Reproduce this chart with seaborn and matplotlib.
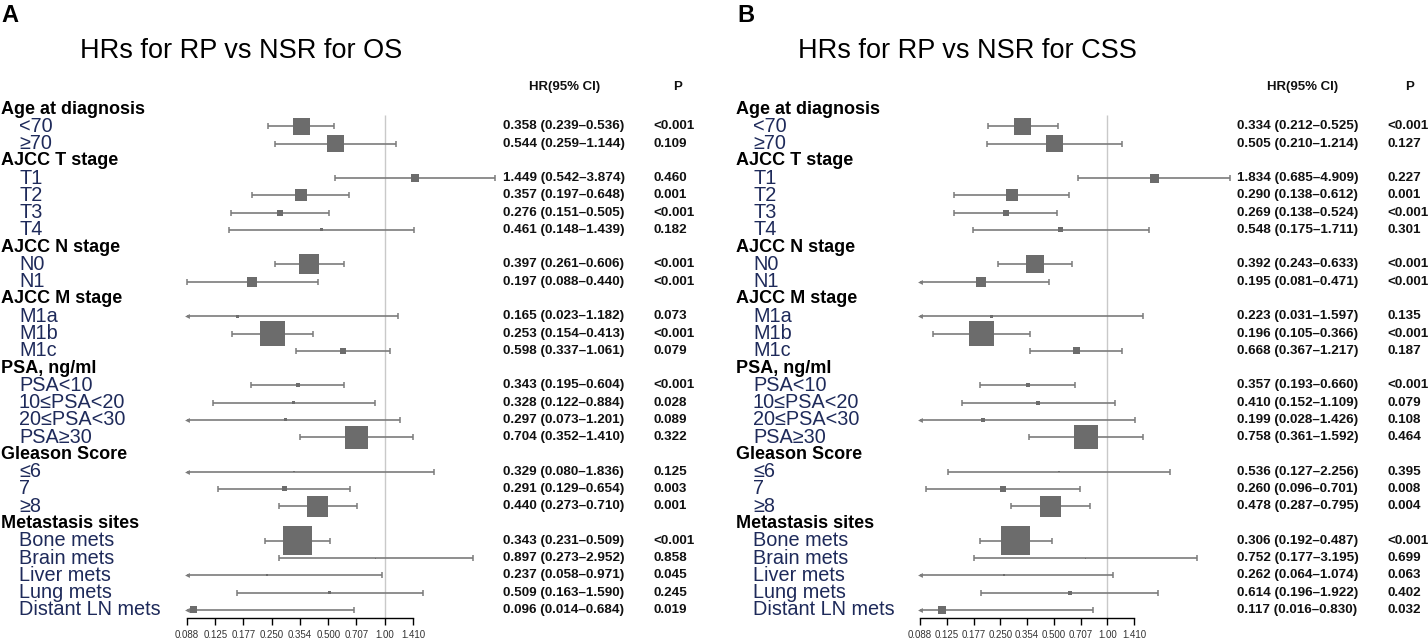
import numpy as np
import pandas as pd
import matplotlib
matplotlib.use("Agg")
import matplotlib.pyplot as plt
import matplotlib.transforms as mtransforms
import seaborn as sns

# ---------------- data ----------------
groups = ["Age at diagnosis", "AJCC T stage", "AJCC N stage", "AJCC M stage",
          "PSA, ng/ml", "Gleason Score", "Metastasis sites"]
subgroups = [["<70", "≥70"],
             ["T1", "T2", "T3", "T4"],
             ["N0", "N1"],
             ["M1a", "M1b", "M1c"],
             ["PSA<10", "10≤PSA<20", "20≤PSA<30", "PSA≥30"],
             ["≤6", "7", "≥8"],
             ["Bone mets", "Brain mets", "Liver mets", "Lung mets", "Distant LN mets"]]

# Panel A: OS
hr_a = [0.358, 0.544, 1.449, 0.357, 0.276, 0.461, 0.397, 0.197, 0.165, 0.253, 0.598,
        0.343, 0.328, 0.297, 0.704, 0.329, 0.291, 0.440, 0.343, 0.897, 0.237, 0.509, 0.096]
lo_a = [0.239, 0.259, 0.542, 0.197, 0.151, 0.148, 0.261, 0.088, 0.023, 0.154, 0.337,
        0.195, 0.122, 0.073, 0.352, 0.080, 0.129, 0.273, 0.231, 0.273, 0.058, 0.163, 0.014]
hi_a = [0.536, 1.144, 3.874, 0.648, 0.505, 1.439, 0.606, 0.440, 1.182, 0.413, 1.061,
        0.604, 0.884, 1.201, 1.410, 1.836, 0.654, 0.710, 0.509, 2.952, 0.971, 1.590, 0.684]
p_a = ["<0.001", "0.109", "0.460", "0.001", "<0.001", "0.182", "<0.001", "<0.001",
       "0.073", "<0.001", "0.079", "<0.001", "0.028", "0.089", "0.322", "0.125",
       "0.003", "0.001", "<0.001", "0.858", "0.045", "0.245", "0.019"]
box_weight_a = [17, 17, 8, 12, 6, 3, 20, 10, 3, 25, 6, 4, 3, 3, 23, 1.5, 5, 21, 29, 1, 2, 3, 7]

# Panel B: CSS
hr_b = [0.334, 0.505, 1.834, 0.290, 0.269, 0.548, 0.392, 0.195, 0.223, 0.196, 0.668,
        0.357, 0.410, 0.199, 0.758, 0.536, 0.260, 0.478, 0.306, 0.752, 0.262, 0.614, 0.117]
lo_b = [0.212, 0.210, 0.685, 0.138, 0.138, 0.175, 0.243, 0.081, 0.031, 0.105, 0.367,
        0.193, 0.152, 0.028, 0.361, 0.127, 0.096, 0.287, 0.192, 0.177, 0.064, 0.196, 0.016]
hi_b = [0.525, 1.214, 4.909, 0.612, 0.524, 1.711, 0.633, 0.471, 1.597, 0.366, 1.217,
        0.660, 1.109, 1.426, 1.592, 2.256, 0.701, 0.795, 0.487, 3.195, 1.074, 1.922, 0.830]
p_b = ["<0.001", "0.127", "0.227", "0.001", "<0.001", "0.301", "<0.001", "<0.001",
       "0.135", "<0.001", "0.187", "<0.001", "0.079", "0.108", "0.464", "0.395",
       "0.008", "0.004", "<0.001", "0.699", "0.063", "0.402", "0.032"]
box_weight_b = [17, 17, 9, 12, 6, 5, 18, 10, 3, 25, 7, 4, 4, 4, 24, 1.5, 6, 21, 29, 1, 2, 4, 8]

tick_vals = [2 ** -3.5, 2 ** -3, 2 ** -2.5, 2 ** -2, 2 ** -1.5, 2 ** -1, 2 ** -0.5, 1.0, 2 ** 0.5]
tick_labels = ["0.088", "0.125", "0.177", "0.250", "0.354", "0.500", "0.707", "1.00", "1.410"]

titles = ["HRs for RP vs NSR for OS", "HRs for RP vs NSR for CSS"]
letters = ["A", "B"]

# ---------------- style ----------------
sns.set_theme(style="white")
plt.rcParams["font.family"] = ["Liberation Sans", "DejaVu Sans"]

W, H = 1428, 642
fig = plt.figure(figsize=(W / 100, H / 100), dpi=100)

ROW0, ROWSTEP = 109, 17.27
AX_TOP, AX_BOT = 100, 618
LABEL_COL = "#1e2a5a"
LINE_COL = "#7c7c7c"
BOX_COL = "#6c6c6c"


def build_rows():
    rows = []
    r = 0
    for g, subs in zip(groups, subgroups):
        rows.append(("h", g, r))
        r += 1
        for s in subs:
            rows.append(("s", s, r))
            r += 1
    return rows, r


rows, nrows = build_rows()
sub_rows = [r for kind, _, r in rows if kind == "s"]

panels = [
    dict(hr=hr_a, lo=lo_a, hi=hi_a, p=p_a, w=box_weight_a, ax_l=187, ax_r=413,
         head_x=1, sub_x=19, hr_x=503, p_x=653, hrhead_x=565, phead_x=678,
         title_x=241, letter_x=1),
    dict(hr=hr_b, lo=lo_b, hi=hi_b, p=p_b, w=box_weight_b, ax_l=920, ax_r=1134,
         head_x=736, sub_x=753, hr_x=1237, p_x=1387, hrhead_x=1303, phead_x=1410,
         title_x=967, letter_x=737),
]

xmin, xmax = 2 ** -3.5, 2 ** 0.5

for i, pnl in enumerate(panels):
    ax = fig.add_axes([pnl["ax_l"] / W, (H - AX_BOT) / H,
                       (pnl["ax_r"] - pnl["ax_l"]) / W, (AX_BOT - AX_TOP) / H])
    ax.set_xscale("log", base=2)
    ax.set_xlim(xmin, xmax)
    ylo = (AX_BOT - ROW0) / ROWSTEP
    yhi = (AX_TOP - ROW0) / ROWSTEP
    ax.set_ylim(ylo, yhi)
    ax.patch.set_alpha(0)

    df = pd.DataFrame({"row": sub_rows, "hr": pnl["hr"], "lo": pnl["lo"],
                       "hi": pnl["hi"], "w": pnl["w"], "p": pnl["p"]})

    # reference line at HR = 1
    ax.vlines(1.0, 0.35, ylo, color="#c9c9c9", lw=1.0, zorder=1)

    # confidence intervals
    for _, d in df.iterrows():
        clipped = d["lo"] < 0.088
        x0 = xmin if clipped else d["lo"]
        ax.plot([x0, d["hi"]], [d["row"], d["row"]], color=LINE_COL, lw=1.2,
                clip_on=False, zorder=2, solid_capstyle="butt")
        if clipped:
            ax.plot([x0], [d["row"]], marker="<", ms=3.5, color=LINE_COL,
                    clip_on=False, zorder=2, markeredgewidth=0)
        else:
            ax.plot([x0], [d["row"]], marker="|", ms=5, mew=1.1, color=LINE_COL,
                    clip_on=False, zorder=2)
        ax.plot([d["hi"]], [d["row"]], marker="|", ms=5, mew=1.1, color=LINE_COL,
                clip_on=False, zorder=2)

    # boxes (side in px -> area in pt^2)
    areas = (np.array(df["w"], dtype=float) * 0.72) ** 2
    sns.scatterplot(data=df, x="hr", y="row", marker="s", s=areas, color=BOX_COL,
                    linewidth=0, ax=ax, legend=False, clip_on=False, zorder=3)

    # axes styling
    for sp in ["top", "right", "left"]:
        ax.spines[sp].set_visible(False)
    ax.spines["bottom"].set_color("black")
    ax.spines["bottom"].set_linewidth(1.0)
    ax.set_xticks(tick_vals)
    ax.set_xticklabels(tick_labels)
    ax.minorticks_off()
    ax.set_yticks([])
    ax.tick_params(axis="x", bottom=True, direction="out", length=5, width=1.0,
                   color="black", labelsize=7, labelcolor="#333333", pad=4)
    ax.set_xlabel("")
    ax.set_ylabel("")
    ax.grid(False)

    tr = mtransforms.blended_transform_factory(fig.transFigure, ax.transData)

    # left labels
    for kind, txt, r in rows:
        if kind == "h":
            fig.text(pnl["head_x"] / W, r, txt, transform=tr, fontsize=13,
                     fontweight="bold", color="black", ha="left", va="center")
        else:
            fig.text(pnl["sub_x"] / W, r, txt, transform=tr, fontsize=14.3,
                     color=LABEL_COL, ha="left", va="center")

    # right-hand text columns
    for _, d in df.iterrows():
        s = f"{d['hr']:.3f} ({d['lo']:.3f}–{d['hi']:.3f})"
        fig.text(pnl["hr_x"] / W, d["row"], s, transform=tr, fontsize=9.7,
                 fontweight="bold", color="#111111", ha="left", va="center")
        fig.text(pnl["p_x"] / W, d["row"], d["p"], transform=tr, fontsize=9.7,
                 fontweight="bold", color="#111111", ha="left", va="center")

    fig.text(pnl["hrhead_x"] / W, 1 - 87 / H, "HR(95% CI)", fontsize=9.5,
             fontweight="bold", ha="center", va="center", color="#111111")
    fig.text(pnl["phead_x"] / W, 1 - 87 / H, "P", fontsize=9.5,
             fontweight="bold", ha="center", va="center", color="#111111")

    fig.text(pnl["title_x"] / W, 1 - 51 / H, titles[i], fontsize=19.5,
             ha="center", va="center", color="black")
    fig.text(pnl["letter_x"] / W, 1 - 4 / H, letters[i], fontsize=17,
             fontweight="bold", ha="left", va="top", color="black")

fig.savefig("out.png", dpi=100)
